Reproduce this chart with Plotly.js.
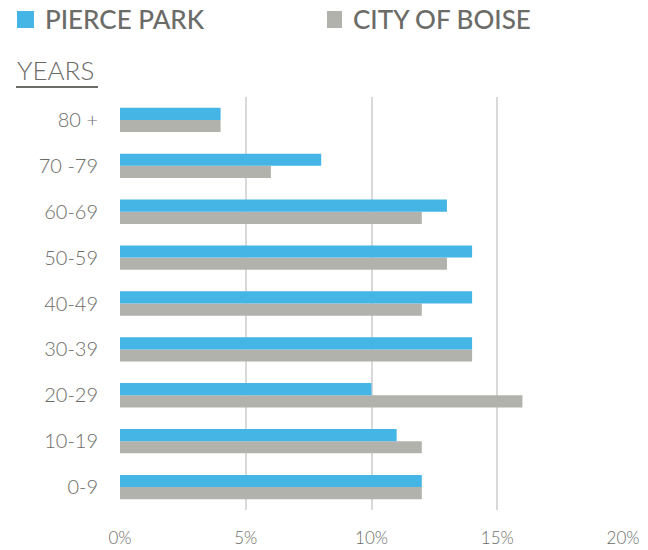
<!DOCTYPE html>
<html>
<head>
<meta charset="utf-8">
<script src="https://cdn.plot.ly/plotly-3.0.1.min.js"></script>
<style>html,body{margin:0;padding:0;background:#fff;}#chart{width:648px;height:550px;}</style>
</head>
<body>
<div id="chart"></div>
<script>
const categories = ['0-9', '10-19', '20-29', '30-39', '40-49', '50-59', '60-69', '70 -79', '80 +'];
const pierceParkValues = [12, 11, 10, 14, 14, 14, 13, 8, 4];
const cityOfBoiseValues = [12, 12, 16, 14, 12, 13, 12, 6, 4];
const xTickValues = [0, 5, 10, 15, 20];
const xTickLabels = ['0%', '5%', '10%', '15%', '20%'];
const seriesNames = ['PIERCE PARK', 'CITY OF BOISE'];
const seriesColors = ['#45b5e6', '#b2b2ac'];
const axisTitle = 'YEARS';

const textColor = '#6b6b67';
const fontFamily = 'Lato, "Open Sans", sans-serif';

const traces = [
  {
    type: 'bar', orientation: 'h', name: seriesNames[1],
    y: categories, x: cityOfBoiseValues,
    marker: {color: seriesColors[1]}, hoverinfo: 'skip'
  },
  {
    type: 'bar', orientation: 'h', name: seriesNames[0],
    y: categories, x: pierceParkValues,
    marker: {color: seriesColors[0]}, hoverinfo: 'skip'
  }
];

// manual legend (square + label) positioned in pixels above the plot
const legendSpots = [{sq: [-103, -86], tx: -77}, {sq: [207, 222], tx: 231}];
const legendShapes = legendSpots.map((p, i) => ({
  type: 'rect', xref: 'paper', yref: 'paper',
  xsizemode: 'pixel', ysizemode: 'pixel', xanchor: 0, yanchor: 1,
  x0: p.sq[0], x1: p.sq[1], y0: 69, y1: 86,
  fillcolor: seriesColors[i], line: {width: 0}
}));
const legendTexts = legendSpots.map((p, i) => ({
  text: seriesNames[i], xref: 'paper', yref: 'paper',
  x: 0, y: 1, xshift: p.tx, yshift: 78,
  xanchor: 'left', yanchor: 'middle', showarrow: false,
  font: {size: 26, color: textColor, family: fontFamily, weight: 500}
}));

const layout = {
  width: 648, height: 550,
  margin: {l: 120, r: 25, t: 97, b: 40, pad: 0},
  paper_bgcolor: '#ffffff', plot_bgcolor: '#ffffff',
  barmode: 'group', bargap: 0.47, bargroupgap: 0,
  font: {family: fontFamily, color: textColor},
  showlegend: false,
  xaxis: {
    range: [0, 20], tickvals: xTickValues, ticktext: xTickLabels,
    showgrid: true, gridcolor: '#d9d9d9', gridwidth: 2,
    zeroline: false, showline: false, ticks: '',
    ticklabelstandoff: 16,
    tickfont: {size: 17, color: textColor, family: fontFamily, weight: 300},
    fixedrange: true
  },
  yaxis: {
    type: 'category', categoryorder: 'array', categoryarray: categories,
    showgrid: false, zeroline: false, showline: false, ticks: '',
    ticklabelstandoff: 21,
    tickfont: {size: 20, color: textColor, family: fontFamily, weight: 300},
    fixedrange: true
  },
  annotations: legendTexts.concat([{
    text: axisTitle, xref: 'paper', yref: 'paper',
    x: 0, y: 1, xshift: -105, yshift: 9,
    xanchor: 'left', yanchor: 'bottom', showarrow: false,
    font: {size: 26, color: textColor, family: 'Lato, sans-serif', weight: 300}
  }]),
  shapes: legendShapes.concat([{
    type: 'line', xref: 'paper', yref: 'paper',
    xsizemode: 'pixel', ysizemode: 'pixel', xanchor: 0, yanchor: 1,
    x0: -104, x1: -22, y0: 10, y1: 10,
    line: {color: '#6b6b67', width: 2}
  }])
};

Plotly.newPlot('chart', traces, layout, {displayModeBar: false, staticPlot: true});
</script>
</body>
</html>
